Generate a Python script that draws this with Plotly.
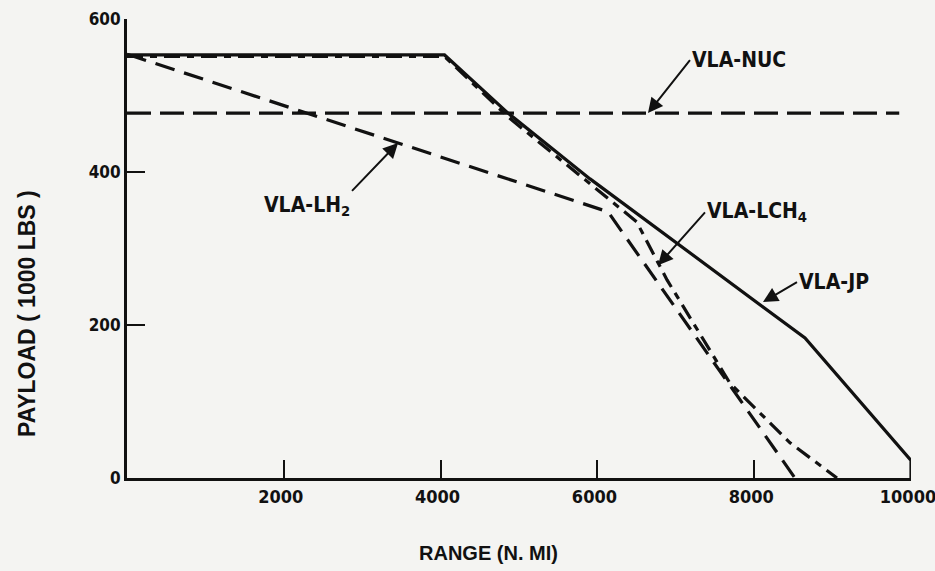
import plotly.graph_objects as go

# Data (range in N. MI, payload in 1000 LBS)
jp_range = [0, 4050, 4860, 5906, 8648, 10000, 10000]
jp_payload = [553, 553, 477, 391, 183, 23, 0]

lch4_range = [0, 4050, 4860, 5906, 6500, 6888, 7690, 8457, 9056]
lch4_payload = [551, 551, 472, 385, 335, 259, 124, 46, 0]

lh2_range = [0, 6135, 8520]
lh2_payload = [554, 348, 0]

nuc_range = [0, 9850]
nuc_payload = [477, 477]

x_ticks = [2000, 4000, 6000, 8000, 10000]
y_ticks = [0, 200, 400, 600]

INK = "#111111"
BG = "#f4f4f2"
FONT = "Liberation Sans Narrow, DejaVu Sans Condensed, Arial Narrow, sans-serif"
BOLD = "Liberation Sans, Arial, sans-serif"

fig = go.Figure()
fig.add_trace(go.Scatter(x=nuc_range, y=nuc_payload, mode="lines", name="VLA-NUC",
                         line=dict(color=INK, width=3.2, dash="24px,9px")))
fig.add_trace(go.Scatter(x=lh2_range, y=lh2_payload, mode="lines", name="VLA-LH2",
                         line=dict(color=INK, width=3.2, dash="20px,10px")))
fig.add_trace(go.Scatter(x=lch4_range, y=lch4_payload, mode="lines", name="VLA-LCH4",
                         line=dict(color=INK, width=3.2, dash="16px,7px,7px,7px")))
fig.add_trace(go.Scatter(x=jp_range, y=jp_payload, mode="lines", name="VLA-JP",
                         line=dict(color=INK, width=3.2)))

ann_font = dict(family=FONT, size=21, color=INK)
arrow = dict(showarrow=True, arrowhead=2, arrowsize=1.5, arrowwidth=2,
             arrowcolor=INK, xref="x", yref="y", font=ann_font)
fig.add_annotation(x=6645, y=477, ax=42, ay=-53, text="<b>VLA-NUC</b>",
                   xanchor="left", yanchor="middle", **arrow)
fig.add_annotation(x=3457, y=438, ax=-46, ay=48, text="<b>VLA-LH<sub>2</sub></b>",
                   xanchor="right", yanchor="top", **arrow)
fig.add_annotation(x=6773, y=278, ax=47, ay=-53, text="<b>VLA-LCH<sub>4</sub></b>",
                   xanchor="left", yanchor="middle", **arrow)
fig.add_annotation(x=8112, y=230, ax=34, ay=-20, text="<b>VLA-JP</b>",
                   xanchor="left", yanchor="middle", **arrow)

# axis titles (placed off-centre as in the reference)
fig.add_annotation(text="<b>RANGE (N. MI)</b>", xref="paper", yref="paper",
                   x=0.4605, y=-0.163, xanchor="center", yanchor="middle",
                   showarrow=False, font=dict(family=BOLD, size=20, color=INK))
fig.add_annotation(text="<b>PAYLOAD ( 1000 LBS )</b>", xref="paper", yref="paper",
                   x=-0.1276, y=0.3595, xanchor="center", yanchor="middle",
                   textangle=-90, showarrow=False,
                   font=dict(family=BOLD, size=23, color=INK))

fig.update_layout(
    width=935, height=571,
    margin=dict(l=127, r=24, t=19, b=93, autoexpand=False),
    paper_bgcolor=BG, plot_bgcolor=BG,
    showlegend=False,
    xaxis=dict(range=[0, 10000], tickvals=x_ticks, ticktext=[str(v) for v in x_ticks],
               showgrid=False, zeroline=False, showline=True, linecolor=INK, linewidth=3,
               ticks="inside", ticklen=18, tickwidth=2, tickcolor=INK,
               tickfont=dict(family=FONT, size=18, color=INK, weight="bold"),
               ticklabelshift=-3, ticklabeloverflow="allow"),
    yaxis=dict(range=[0, 600], tickvals=y_ticks, ticktext=[str(v) for v in y_ticks],
               showgrid=False, zeroline=False, showline=True, linecolor=INK, linewidth=3,
               ticks="inside", ticklen=18, tickwidth=2, tickcolor=INK,
               tickfont=dict(family=FONT, size=17, color=INK, weight="bold"),
               ticklabeloverflow="allow"),
)

fig.write_html("out.html", config={"displayModeBar": False},
               post_script="document.body.style.margin='0';"
                           "document.body.style.background='%s';" % BG)
